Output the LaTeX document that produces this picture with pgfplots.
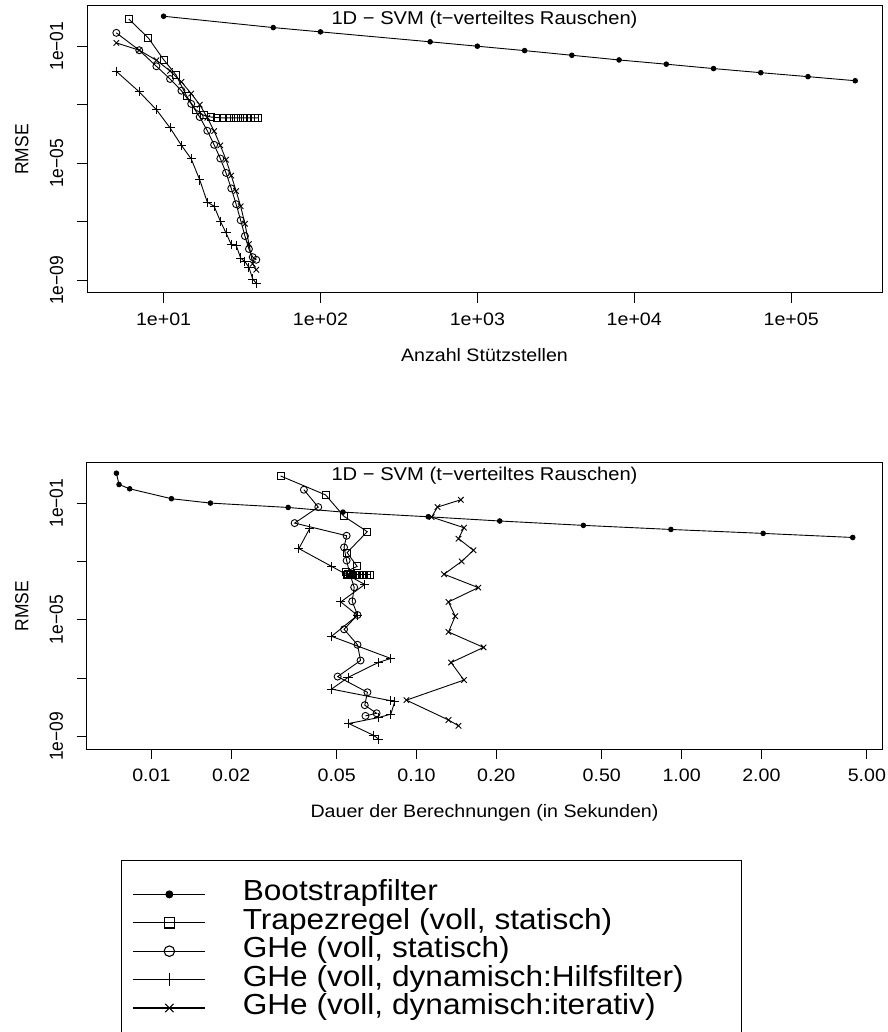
\documentclass[border=0pt]{standalone}
\usepackage{pgfplots}
\pgfplotsset{compat=1.18}
\usepackage{pgfplotstable}
\usepackage{fontspec}
\setmainfont{Liberation Sans}[FakeStretch=1.09]
\newfontfamily\rotfont{Liberation Sans}[FakeStretch=0.917]

\pgfplotstableread{
N t rmse
10 0.00738 1.057
50 0.00755 0.4335
100 0.00828 0.309
500 0.0119 0.1413
1000 0.0167 0.1
2000 0.0328 0.0708
4000 0.0528 0.0490
8000 0.1107 0.0339
16000 0.206 0.0243
32000 0.426 0.0172
64000 0.911 0.01245
128000 2.03 0.00912
256000 4.42 0.00661
}\boot

\pgfplotstableread{
N t rmse
6 0.0307 0.851
8 0.0454 0.1905
10 0.0533 0.0349
12 0.0652 0.01047
14 0.0547 0.0020
16 0.0597 6.76e-4
18 0.0540 4.37e-4
20 0.0552 3.80e-4
22 0.0565 3.63e-4
24 0.0548 3.55e-4
26 0.0575 3.55e-4
28 0.0590 3.55e-4
30 0.0605 3.55e-4
32 0.0560 3.55e-4
34 0.0620 3.55e-4
36 0.0635 3.55e-4
38 0.0650 3.55e-4
40 0.0670 3.55e-4
}\trap

\pgfplotstableread{
N t rmse
5 0.0376 0.2864
7 0.0426 0.0729
9 0.0347 0.0206
11 0.0545 7.59e-3
13 0.0533 3.02e-3
15 0.0545 1.07e-3
17 0.0560 3.80e-4
19 0.0582 1.29e-4
21 0.0572 4.27e-5
23 0.0599 1.45e-5
25 0.0533 4.68e-6
27 0.0599 1.38e-6
29 0.0615 3.98e-7
31 0.0504 1.12e-7
33 0.0653 3.24e-8
35 0.0638 1.17e-8
37 0.0707 6.17e-9
39 0.0642 5.01e-9
}\ghes

\pgfplotstableread{
N t rmse
5 0.0396 0.0138
7 0.0360 2.75e-3
9 0.0478 6.76e-4
11 0.0638 1.62e-4
13 0.0518 4.07e-5
15 0.0599 1.41e-5
17 0.0478 2.69e-6
19 0.0800 4.68e-7
21 0.0717 3.39e-7
23 0.0552 1.05e-7
25 0.0478 4.17e-8
27 0.0800 1.66e-8
29 0.0828 1.58e-8
31 0.0800 5.75e-9
33 0.0717 4.37e-9
35 0.0555 2.75e-9
37 0.0686 1.10e-9
39 0.0721 7.94e-10
}\ghehf

\pgfplotstableread{
N t rmse
5 0.147 0.130
7 0.120 0.0729
9 0.114 0.0331
11 0.151 0.01429
13 0.144 6.03e-3
15 0.164 2.40e-3
17 0.148 1.0e-3
19 0.127 3.63e-4
21 0.171 1.26e-4
23 0.132 4.07e-5
25 0.140 1.32e-5
27 0.132 3.80e-6
29 0.179 1.12e-6
31 0.135 3.39e-7
33 0.151 8.51e-8
35 0.0916 1.74e-8
37 0.132 3.63e-9
39 0.144 2.29e-9
}\gheit

\tikzset{
  sboot/.style={black, line width=0.9pt, mark=*, mark size=2.3pt, mark options={solid}},
  strap/.style={black, line width=0.9pt, mark=square, mark size=3.5pt, mark options={solid}},
  sghes/.style={black, line width=0.9pt, mark=o, mark size=3.5pt, mark options={solid}},
  sghehf/.style={black, line width=0.9pt, mark=+, mark size=4.6pt, mark options={solid}},
  sgheit/.style={black, line width=0.9pt, mark=x, mark size=3.9pt, mark options={solid}},
}

\begin{document}
\begin{tikzpicture}
\path[use as bounding box] (0pt,0pt) rectangle (887pt,1032pt);
\begin{axis}[at={(87pt,739pt)}, anchor=south west,
  scale only axis, width=795pt, height=287pt,
  xmode=log, ymode=log,
  axis line style={line width=1pt},
  tick align=outside, major tick length=10pt,
  tick style={line width=1pt, black},
  minor tick style={draw=none},
  xtick pos=bottom, ytick pos=left,
  ymin=3.67e-10, ymax=2.371,
  ytick={1e-1,1e-3,1e-5,1e-7,1e-9},
  yticklabels={1e−01,,1e−05,,1e−09},
  yticklabel style={font=\rotfont\fontsize{19}{19}\selectfont, rotate=90, anchor=base},
  yticklabel shift=14pt,
  xticklabel style={font=\fontsize{18}{18}\selectfont, anchor=base},
  xticklabel shift=23pt,
  ylabel={RMSE},
  ylabel style={font=\rotfont\fontsize{19}{19}\selectfont, anchor=base, at={(axis description cs:-0.0738,0.5)}},
  clip=false,
  xmin=3.251, xmax=379300,
  xtick={10,100,1000,10000,100000},
  xticklabels={1e+01,1e+02,1e+03,1e+04,1e+05},
  xlabel={Anzahl Stützstellen},
  xlabel style={font=\fontsize{18}{18}\selectfont, anchor=base, at={(axis description cs:0.5,-0.237)}},
]
\addplot[sboot] table[x=N,y=rmse] {\boot};
\addplot[strap] table[x=N,y=rmse] {\trap};
\addplot[sghes] table[x=N,y=rmse] {\ghes};
\addplot[sghehf] table[x=N,y=rmse] {\ghehf};
\addplot[sgheit] table[x=N,y=rmse] {\gheit};
\node[anchor=base, font=\fontsize{18.5}{18.5}\selectfont, inner sep=0pt] at (rel axis cs:0.5,0.937) {1D − SVM (t−verteiltes Rauschen)};
\end{axis}

\begin{axis}[at={(87pt,283pt)}, anchor=south west,
  scale only axis, width=795pt, height=286pt,
  xmode=log, ymode=log,
  axis line style={line width=1pt},
  tick align=outside, major tick length=10pt,
  tick style={line width=1pt, black},
  minor tick style={draw=none},
  xtick pos=bottom, ytick pos=left,
  ymin=3.67e-10, ymax=2.371,
  ytick={1e-1,1e-3,1e-5,1e-7,1e-9},
  yticklabels={1e−01,,1e−05,,1e−09},
  yticklabel style={font=\rotfont\fontsize{19}{19}\selectfont, rotate=90, anchor=base},
  yticklabel shift=14pt,
  xticklabel style={font=\fontsize{18}{18}\selectfont, anchor=base},
  xticklabel shift=23pt,
  ylabel={RMSE},
  ylabel style={font=\rotfont\fontsize{19}{19}\selectfont, anchor=base, at={(axis description cs:-0.0738,0.5)}},
  clip=false,
  xmin=0.005715, xmax=5.70,
  xtick={0.01,0.02,0.05,0.1,0.2,0.5,1,2,5},
  xticklabels={0.01,0.02,0.05,0.10,0.20,0.50,1.00,2.00,5.00},
  xlabel={Dauer der Berechnungen (in Sekunden)},
  xlabel style={font=\fontsize{18}{18}\selectfont, anchor=base, at={(axis description cs:0.5,-0.238)}},
  legend style={at={(axis description cs:0.05736,-0.458)}, anchor=north west,
    draw=none, fill=none, inner xsep=0pt, inner ysep=0pt, row sep=0pt,
    column sep=36.9pt,
    font=\fontsize{29}{29}\selectfont,
    nodes={inner sep=0pt, text height=20.7pt, text depth=7.7pt}},
  legend cell align=left,
  legend image code/.code={\draw[mark repeat=2, mark phase=2, #1, line width=1.1pt, mark options={solid, scale=1.5}] plot coordinates {(0pt,0pt) (36pt,0pt) (72pt,0pt)};},
]
\addplot[sboot] table[x=t,y=rmse] {\boot};
\addlegendentry{Bootstrapfilter}
\addplot[strap] table[x=t,y=rmse] {\trap};
\addlegendentry{Trapezregel (voll, statisch)}
\addplot[sghes] table[x=t,y=rmse] {\ghes};
\addlegendentry{GHe (voll, statisch)}
\addplot[sghehf] table[x=t,y=rmse] {\ghehf};
\addlegendentry{GHe (voll, dynamisch:Hilfsfilter)}
\addplot[sgheit] table[x=t,y=rmse] {\gheit};
\addlegendentry{GHe (voll, dynamisch:iterativ)}
\node[anchor=base, font=\fontsize{18.5}{18.5}\selectfont, inner sep=0pt] at (rel axis cs:0.5,0.938) {1D − SVM (t−verteiltes Rauschen)};
\end{axis}
\draw[line width=1pt] (121.8pt,171.3pt) rectangle (741pt,-10pt);
\end{tikzpicture}
\end{document}
